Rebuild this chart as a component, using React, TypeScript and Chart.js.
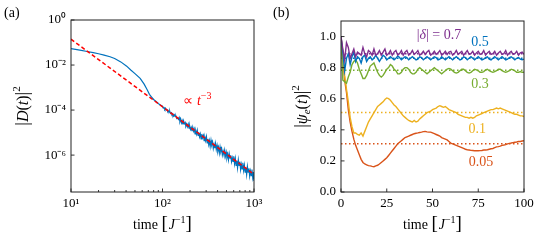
import React, { useEffect, useRef } from 'react';
import { Chart, registerables } from 'chart.js';
Chart.register(...registerables);

const SERIF = "'Liberation Serif', 'Times New Roman', serif";

// ---------- Panel (a) ----------
const A_TIME = [
  10, 12.5, 15, 17.5, 20, 23, 26.7, 30, 35, 40.6, 45, 50, 57, 63, 68, 72, 76, 80, 85, 90, 95,
  100, 102, 104, 106, 108, 110, 112, 114, 116, 118,
  120, 122, 125, 127, 130, 132, 135, 137, 140, 143,
  146, 149, 152, 155, 158, 161, 164, 167, 170, 173,
  177, 180, 184, 187, 191, 195, 198, 202, 206, 210,
  214, 218, 222, 227, 231, 236, 240, 245, 249, 254,
  259, 264, 269, 274, 280, 285, 291, 296, 302, 308,
  314, 320, 326, 332, 339, 345, 352, 359, 366, 373,
  380, 387, 395, 402, 410, 418, 426, 434, 443, 451,
  460, 469, 478, 487, 497, 506, 516, 526, 536, 547,
  557, 568, 579, 590, 601, 613, 625, 637, 649, 661,
  674, 687, 700, 714, 727, 741, 755, 770, 785, 800,
  815, 831, 847, 863, 880, 897, 914, 932, 950, 968,
  985, 1000,
];
const A_LOG10_D = [
  -1.27, -1.34, -1.40, -1.45, -1.50, -1.56, -1.63, -1.71, -1.86, -2.05, -2.22, -2.38, -2.59, -2.85, -3.10, -3.30, -3.42, -3.53, -3.62, -3.71, -3.78,
  -3.83, -3.91, -3.89, -3.97, -3.92, -3.99, -3.98, -4.06, -4.04, -4.09,
  -4.05, -4.15, -4.12, -4.21, -4.18, -4.27, -4.21, -4.28, -4.26, -4.37,
  -4.34, -4.41, -4.33, -4.51, -4.40, -4.57, -4.47, -4.64, -4.48, -4.61,
  -4.55, -4.72, -4.63, -4.74, -4.62, -4.80, -4.70, -4.86, -4.77, -4.94,
  -4.76, -4.93, -4.83, -5.06, -4.92, -5.07, -4.90, -5.13, -4.99, -5.19,
  -5.06, -5.28, -5.06, -5.23, -5.13, -5.36, -5.22, -5.36, -5.18, -5.46,
  -5.28, -5.53, -5.36, -5.61, -5.34, -5.54, -5.41, -5.70, -5.52, -5.69,
  -5.48, -5.75, -5.57, -5.82, -5.66, -5.91, -5.64, -5.84, -5.71, -5.99,
  -5.82, -5.98, -5.78, -6.05, -5.87, -6.12, -5.96, -6.21, -5.94, -6.14,
  -6.01, -6.29, -6.12, -6.28, -6.05, -6.39, -6.15, -6.46, -6.25, -6.56,
  -6.21, -6.46, -6.29, -6.64, -6.41, -6.61, -6.34, -6.68, -6.45, -6.76,
  -6.54, -6.86, -6.51, -6.76, -6.59, -6.93, -6.71, -6.91, -6.64, -6.98,
  -6.75, -7.15,
];
const A_FIT_TIME = [10, 1000];
const A_FIT_VALUE = [0.14, 1.4e-7];
const A_X_TICKS = [10, 100, 1000];
const A_X_TICK_LABELS = ['10¹', '10²', '10³'];
const A_X_MINOR = [20, 30, 40, 50, 60, 70, 80, 90, 200, 300, 400, 500, 600, 700, 800, 900];
const A_Y_TICKS = [1, 1e-2, 1e-4, 1e-6];
const A_Y_TICK_LABELS = ['10⁰', '10⁻²', '10⁻⁴', '10⁻⁶'];

// ---------- Panel (b) ----------
const B_DELTA_LABELS = ['|δ| = 0.7', '0.5', '0.3', '0.1', '0.05'];
const B_PSI_07 = [
  1.00, 0.92, 0.85, 0.96, 0.93, 0.86, 0.89, 0.92, 0.87, 0.90,
  0.89, 0.88, 0.93, 0.89, 0.87, 0.91, 0.90, 0.88, 0.92, 0.88,
  0.89, 0.91, 0.88, 0.90, 0.92, 0.88, 0.89, 0.91, 0.88, 0.90,
  0.91, 0.88, 0.89, 0.91, 0.88, 0.90, 0.91, 0.88, 0.89, 0.91,
  0.885, 0.895, 0.91, 0.88, 0.89, 0.905, 0.885, 0.90, 0.91, 0.88,
  0.89, 0.905, 0.885, 0.895, 0.91, 0.88, 0.89, 0.905, 0.885, 0.90,
  0.905, 0.88, 0.89, 0.91, 0.885, 0.895, 0.905, 0.88, 0.895, 0.91,
  0.885, 0.89, 0.905, 0.88, 0.895, 0.905, 0.885, 0.89, 0.91, 0.88,
  0.895, 0.905, 0.885, 0.89, 0.905, 0.88, 0.895, 0.905, 0.885, 0.89,
  0.91, 0.88, 0.895, 0.905, 0.885, 0.89, 0.905, 0.88, 0.895, 0.90,
  0.885,
];
const B_PSI_05 = [
  1.00, 0.90, 0.78, 0.86, 0.89, 0.82, 0.87, 0.90, 0.84, 0.87,
  0.86, 0.83, 0.87, 0.88, 0.84, 0.86, 0.87, 0.85, 0.86, 0.88,
  0.86, 0.84, 0.86, 0.88, 0.87, 0.85, 0.86, 0.87, 0.86, 0.85,
  0.86, 0.875, 0.865, 0.85, 0.86, 0.87, 0.865, 0.85, 0.86, 0.87,
  0.86, 0.85, 0.855, 0.87, 0.865, 0.85, 0.86, 0.87, 0.86, 0.85,
  0.86, 0.87, 0.865, 0.85, 0.855, 0.87, 0.86, 0.85, 0.86, 0.87,
  0.86, 0.85, 0.86, 0.87, 0.86, 0.85, 0.855, 0.87, 0.865, 0.85,
  0.86, 0.87, 0.86, 0.85, 0.86, 0.87, 0.86, 0.85, 0.855, 0.865,
  0.87, 0.855, 0.85, 0.86, 0.87, 0.86, 0.85, 0.86, 0.87, 0.86,
  0.85, 0.855, 0.865, 0.87, 0.86, 0.85, 0.86, 0.865, 0.855, 0.85,
  0.855,
];
const B_PSI_03 = [
  1.00, 0.72, 0.71, 0.70, 0.74, 0.77, 0.82, 0.84, 0.85, 0.83,
  0.79, 0.76, 0.73, 0.73, 0.75, 0.78, 0.81, 0.82, 0.83, 0.80,
  0.77, 0.75, 0.74, 0.75, 0.77, 0.79, 0.80, 0.82, 0.81, 0.79,
  0.78, 0.76, 0.76, 0.77, 0.79, 0.80, 0.80, 0.79, 0.77, 0.76,
  0.76, 0.77, 0.79, 0.80, 0.79, 0.78, 0.77, 0.76, 0.77, 0.78,
  0.79, 0.80, 0.79, 0.78, 0.77, 0.76, 0.77, 0.78, 0.79, 0.795,
  0.79, 0.78, 0.77, 0.765, 0.77, 0.78, 0.79, 0.79, 0.78, 0.77,
  0.765, 0.77, 0.78, 0.79, 0.785, 0.78, 0.77, 0.77, 0.775, 0.785,
  0.79, 0.78, 0.775, 0.77, 0.775, 0.78, 0.79, 0.79, 0.78, 0.775,
  0.77, 0.775, 0.78, 0.79, 0.785, 0.78, 0.77, 0.77, 0.775, 0.77,
  0.77,
];
const B_PSI_01 = [
  1.00, 0.89, 0.75, 0.66, 0.58, 0.48, 0.42, 0.38, 0.38, 0.37,
  0.365, 0.38, 0.36, 0.39, 0.42, 0.45, 0.47, 0.49, 0.51, 0.53,
  0.55, 0.56, 0.57, 0.58, 0.595, 0.605, 0.60, 0.59, 0.575, 0.56,
  0.55, 0.535, 0.52, 0.505, 0.49, 0.48, 0.47, 0.46, 0.455, 0.45,
  0.46, 0.45, 0.455, 0.47, 0.48, 0.49, 0.50, 0.51, 0.515, 0.52,
  0.53, 0.535, 0.54, 0.55, 0.555, 0.55, 0.545, 0.55, 0.54, 0.53,
  0.525, 0.52, 0.515, 0.51, 0.50, 0.495, 0.49, 0.485, 0.48, 0.48,
  0.475, 0.48, 0.475, 0.48, 0.49, 0.495, 0.50, 0.505, 0.51, 0.515,
  0.52, 0.525, 0.53, 0.53, 0.535, 0.54, 0.535, 0.54, 0.535, 0.53,
  0.525, 0.52, 0.515, 0.51, 0.505, 0.50, 0.50, 0.495, 0.49, 0.49,
  0.485,
];
const B_PSI_005 = [
  1.00, 0.86, 0.72, 0.64, 0.53, 0.45, 0.39, 0.34, 0.30, 0.27,
  0.24, 0.21, 0.19, 0.18, 0.175, 0.17, 0.168, 0.165, 0.163, 0.168,
  0.172, 0.18, 0.19, 0.20, 0.21, 0.22, 0.235, 0.25, 0.265, 0.28,
  0.295, 0.31, 0.32, 0.33, 0.34, 0.35, 0.355, 0.36, 0.365, 0.37,
  0.375, 0.378, 0.38, 0.383, 0.385, 0.388, 0.39, 0.387, 0.385, 0.385,
  0.38, 0.375, 0.37, 0.365, 0.36, 0.35, 0.345, 0.34, 0.335, 0.325,
  0.315, 0.31, 0.305, 0.30, 0.295, 0.29, 0.285, 0.28, 0.275, 0.272,
  0.27, 0.268, 0.267, 0.265, 0.265, 0.265, 0.266, 0.267, 0.27, 0.27,
  0.272, 0.275, 0.278, 0.28, 0.285, 0.29, 0.292, 0.295, 0.30, 0.302,
  0.305, 0.31, 0.313, 0.315, 0.318, 0.32, 0.322, 0.325, 0.325, 0.328,
  0.33,
];
const B_PLATEAU = [0.89, 0.86, 0.783, 0.512, 0.31];
const B_X_TICKS = [0, 25, 50, 75, 100];
const B_Y_TICKS = [0, 0.2, 0.4, 0.6, 0.8, 1.0];
const B_SERIES = [B_PSI_07, B_PSI_05, B_PSI_03, B_PSI_01, B_PSI_005];

// styles (not data)
const B_COLORS = ['#7E2F8E', '#0072BD', '#77AC30', '#EDB120', '#D95319'];
const B_LABEL_POS = [
  { x: 53.5, y: 1.015 },
  { x: 76, y: 0.972 },
  { x: 76, y: 0.70 },
  { x: 74.5, y: 0.41 },
  { x: 76.5, y: 0.20 },
];

type Part = { t: string; s: number; i?: boolean; dy?: number; gap?: number };

function drawRich(ctx: CanvasRenderingContext2D, parts: Part[], cx: number, cy: number, rotate: boolean, color = '#000') {
  ctx.save();
  ctx.translate(cx, cy);
  if (rotate) ctx.rotate(-Math.PI / 2);
  let total = 0;
  const widths: number[] = [];
  for (const p of parts) {
    ctx.font = `${p.i ? 'italic ' : ''}${p.s}px ${SERIF}`;
    const w = ctx.measureText(p.t).width + (p.gap || 0);
    widths.push(w);
    total += w;
  }
  let x = -total / 2;
  ctx.fillStyle = color;
  ctx.textBaseline = 'alphabetic';
  ctx.textAlign = 'left';
  parts.forEach((p, k) => {
    ctx.font = `${p.i ? 'italic ' : ''}${p.s}px ${SERIF}`;
    ctx.fillText(p.t, x, p.dy || 0);
    x += widths[k];
  });
  ctx.restore();
}

function frame(chart: any, xMaj: number[], xMin: number[], yMaj: number[]) {
  const { ctx, chartArea } = chart;
  const { left, right, top, bottom } = chartArea;
  const xs = chart.scales.x;
  const ys = chart.scales.y;
  ctx.save();
  ctx.strokeStyle = '#000';
  ctx.lineWidth = 0.8;
  ctx.beginPath();
  for (const v of xMaj) {
    const p = xs.getPixelForValue(v);
    ctx.moveTo(p, bottom);
    ctx.lineTo(p, bottom - 3.5);
  }
  for (const v of xMin) {
    const p = xs.getPixelForValue(v);
    ctx.moveTo(p, bottom);
    ctx.lineTo(p, bottom - 2);
  }
  for (const v of yMaj) {
    const p = ys.getPixelForValue(v);
    ctx.moveTo(left, p);
    ctx.lineTo(left + 3.5, p);
  }
  ctx.stroke();
  ctx.lineWidth = 1;
  ctx.strokeStyle = '#222';
  ctx.strokeRect(left, top, right - left, bottom - top);
  ctx.restore();
}

const xTitle: Part[] = [
  { t: 'time ', s: 14 },
  { t: '[', s: 19, gap: 1 },
  { t: 'J', s: 14, i: true },
  { t: '−1', s: 10, dy: -6 },
  { t: ']', s: 19 },
];

function App() {
  const refA = useRef<HTMLCanvasElement>(null);
  const refB = useRef<HTMLCanvasElement>(null);

  useEffect(() => {
    const tickFont = { family: SERIF, size: 13 };

    const chartA = new Chart(refA.current!, {
      type: 'line',
      data: {
        datasets: [
          {
            data: A_FIT_TIME.map((t, i) => ({ x: t, y: A_FIT_VALUE[i] })),
            borderColor: '#FF0000',
            borderWidth: 1.5,
            borderDash: [4, 2.5],
            pointRadius: 0,
          },
          {
            data: A_TIME.map((t, i) => ({ x: t, y: Math.pow(10, A_LOG10_D[i]) })),
            borderColor: '#0072BD',
            borderWidth: 1.2,
            pointRadius: 0,
          },
        ],
      },
      options: {
        responsive: false,
        animation: false,
        devicePixelRatio: 1,
        layout: { padding: { top: 20, right: 16, left: 0, bottom: 0 } },
        plugins: { legend: { display: false }, tooltip: { enabled: false } },
        scales: {
          x: {
            type: 'logarithmic',
            min: 10,
            max: 1000,
            afterBuildTicks: (s: any) => { s.ticks = A_X_TICKS.map((v) => ({ value: v })); },
            afterFit: (s: any) => { s.height = 48; },
            ticks: {
              callback: (v: any) => A_X_TICK_LABELS[A_X_TICKS.indexOf(Number(v))] ?? '',
              font: tickFont, color: '#000', padding: 4, maxRotation: 0, autoSkip: false,
            },
            grid: { display: false, drawTicks: false },
            border: { display: false },
          },
          y: {
            type: 'logarithmic',
            min: 2.3e-8,
            max: 1,
            afterBuildTicks: (s: any) => { s.ticks = A_Y_TICKS.map((v) => ({ value: v })); },
            afterFit: (s: any) => { s.width = 71; },
            ticks: {
              callback: (v: any) => {
                const k = A_Y_TICKS.findIndex((t) => Math.abs(Math.log10(t) - Math.log10(Number(v))) < 1e-6);
                return k >= 0 ? A_Y_TICK_LABELS[k] : '';
              },
              font: tickFont, color: '#000', padding: 5, autoSkip: false,
            },
            grid: { display: false, drawTicks: false },
            border: { display: false },
          },
        },
      },
      plugins: [
        {
          id: 'decorA',
          afterDraw(chart: any) {
            frame(chart, A_X_TICKS, A_X_MINOR, A_Y_TICKS);
            const { ctx, chartArea } = chart;
            const cx = (chartArea.left + chartArea.right) / 2;
            drawRich(ctx, xTitle, cx, 229, false);
            drawRich(ctx, [
              { t: '|', s: 18 },
              { t: 'D', s: 16, i: true },
              { t: '(', s: 16 },
              { t: 't', s: 16, i: true },
              { t: ')', s: 16 },
              { t: '|', s: 18 },
              { t: '2', s: 11, dy: -8 },
            ], 28, (chartArea.top + chartArea.bottom) / 2, true);
            const px = chart.scales.x.getPixelForValue(241);
            const py = chart.scales.y.getPixelForValue(Math.pow(10, -3.56));
            drawRich(ctx, [
              { t: '∝ ', s: 14 },
              { t: 't', s: 14, i: true },
              { t: '−3', s: 10, dy: -6 },
            ], px, py + 5, false, '#FF0000');
            ctx.save();
            ctx.font = `14px ${SERIF}`;
            ctx.fillStyle = '#000';
            ctx.fillText('(a)', 4, 17);
            ctx.restore();
          },
        },
      ],
    } as any);

    const T = B_PSI_07.map((_, i) => i);
    const curveSets = B_SERIES.map((arr, k) => ({
      data: T.map((t, i) => ({ x: t, y: arr[i] })),
      borderColor: B_COLORS[k],
      borderWidth: 1.4,
      pointRadius: 0,
    }));
    const plateauSets = B_PLATEAU.map((v, k) => ({
      data: [{ x: 0, y: v }, { x: 100, y: v }],
      borderColor: B_COLORS[k],
      borderWidth: 1.5,
      borderDash: [1.5, 2.5],
      pointRadius: 0,
    }));

    const chartB = new Chart(refB.current!, {
      type: 'line',
      data: { datasets: [...curveSets, ...plateauSets] },
      options: {
        responsive: false,
        animation: false,
        devicePixelRatio: 1,
        layout: { padding: { top: 21, right: 15, left: 0, bottom: 0 } },
        plugins: { legend: { display: false }, tooltip: { enabled: false } },
        scales: {
          x: {
            type: 'linear',
            min: 0,
            max: 100,
            afterBuildTicks: (s: any) => { s.ticks = B_X_TICKS.map((v) => ({ value: v })); },
            afterFit: (s: any) => { s.height = 48; },
            ticks: { font: tickFont, color: '#000', padding: 4, maxRotation: 0, autoSkip: false, callback: (v: any) => String(v) },
            grid: { display: false, drawTicks: false },
            border: { display: false },
          },
          y: {
            type: 'linear',
            min: 0,
            max: 1.1,
            afterBuildTicks: (s: any) => { s.ticks = B_Y_TICKS.map((v) => ({ value: v })); },
            afterFit: (s: any) => { s.width = 71; },
            ticks: { font: tickFont, color: '#000', padding: 5, autoSkip: false, callback: (v: any) => Number(v).toFixed(1) },
            grid: { display: false, drawTicks: false },
            border: { display: false },
          },
        },
      },
      plugins: [
        {
          id: 'decorB',
          afterDraw(chart: any) {
            frame(chart, B_X_TICKS, [], B_Y_TICKS);
            const { ctx, chartArea } = chart;
            const cx = (chartArea.left + chartArea.right) / 2;
            drawRich(ctx, xTitle, cx, 229, false);
            drawRich(ctx, [
              { t: '|', s: 18 },
              { t: 'ψ', s: 16, i: true },
              { t: 'e', s: 11, i: true, dy: 3 },
              { t: '(', s: 16 },
              { t: 't', s: 16, i: true },
              { t: ')', s: 16 },
              { t: '|', s: 18 },
              { t: '2', s: 11, dy: -8 },
            ], 37, (chartArea.top + chartArea.bottom) / 2, true);
            B_DELTA_LABELS.forEach((lab, k) => {
              const px = chart.scales.x.getPixelForValue(B_LABEL_POS[k].x);
              const py = chart.scales.y.getPixelForValue(B_LABEL_POS[k].y);
              if (k === 0) {
                drawRich(ctx, [
                  { t: '|', s: 14 },
                  { t: 'δ', s: 14, i: true },
                  { t: '| = 0.7', s: 14 },
                ], px, py + 5, false, B_COLORS[k]);
              } else {
                drawRich(ctx, [{ t: lab, s: 14 }], px, py + 5, false, B_COLORS[k]);
              }
            });
            ctx.save();
            ctx.font = `14px ${SERIF}`;
            ctx.fillStyle = '#000';
            ctx.fillText('(b)', 3, 17);
            ctx.restore();
          },
        },
      ],
    } as any);

    return () => {
      chartA.destroy();
      chartB.destroy();
    };
  }, []);

  return (
    <div style={{ position: 'absolute', left: 0, top: 0, width: 539, height: 240, background: '#fff' }}>
      <canvas ref={refA} width={270} height={240} style={{ position: 'absolute', left: 0, top: 0 }} />
      <canvas ref={refB} width={269} height={240} style={{ position: 'absolute', left: 270, top: 0 }} />
    </div>
  );
}

export default App;
